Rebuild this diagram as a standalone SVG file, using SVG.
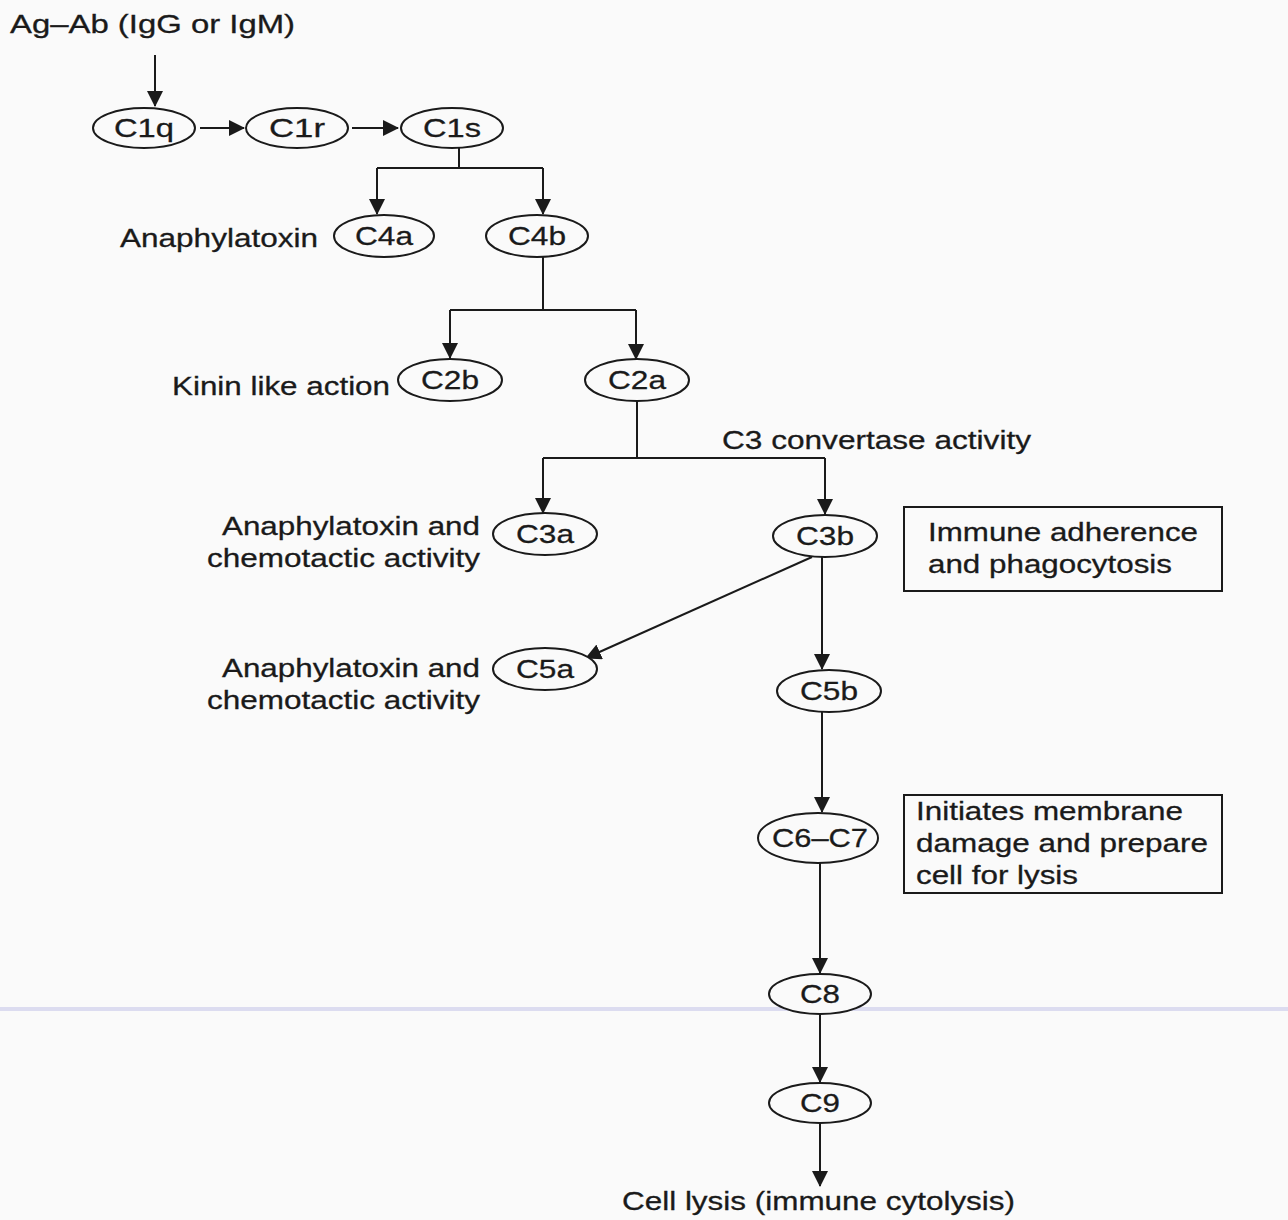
<svg xmlns="http://www.w3.org/2000/svg" width="1288" height="1220" viewBox="0 0 1288 1220">
<defs>
<marker id="ah" viewBox="0 0 16 16" refX="15" refY="8" markerWidth="16" markerHeight="16" markerUnits="userSpaceOnUse" orient="auto">
<path d="M0,0 L16,8 L0,16 Z" fill="#1a1a1a"/>
</marker>
<style>
text{font-family:"Liberation Sans",Arial,sans-serif;font-size:26px;fill:#1a1a1a;stroke:#1a1a1a;stroke-width:0.3}
.n ellipse{fill:#fafafa;stroke:#1a1a1a;stroke-width:2}
.n text{text-anchor:middle}
.c line,.c path{stroke:#1a1a1a;stroke-width:2;fill:none}
.box{fill:none;stroke:#1a1a1a;stroke-width:2}
.r{text-anchor:end}
</style>
</defs>
<rect x="0" y="0" width="1288" height="1220" fill="#fafafa"/>
<rect x="0" y="1007" width="1288" height="4" fill="#dcdcf0"/>

<g id="connectors" class="c">
<line x1="155" y1="55" x2="155" y2="106" marker-end="url(#ah)"/>
<line x1="200" y1="128" x2="244" y2="128" marker-end="url(#ah)"/>
<line x1="352" y1="128" x2="398" y2="128" marker-end="url(#ah)"/>
<path d="M459,148 V168"/>
<path d="M377,168 H543"/>
<line x1="377" y1="168" x2="377" y2="214" marker-end="url(#ah)"/>
<line x1="543" y1="168" x2="543" y2="214" marker-end="url(#ah)"/>
<path d="M543,256 V310 M450,310 H636"/>
<line x1="450" y1="310" x2="450" y2="358" marker-end="url(#ah)"/>
<line x1="636" y1="310" x2="636" y2="359" marker-end="url(#ah)"/>
<path d="M637,401 V458 M543,458 H825"/>
<line x1="543" y1="458" x2="543" y2="513" marker-end="url(#ah)"/>
<line x1="825" y1="458" x2="825" y2="514" marker-end="url(#ah)"/>
<line x1="812" y1="557" x2="586" y2="658" marker-end="url(#ah)"/>
<line x1="822" y1="557" x2="822" y2="669" marker-end="url(#ah)"/>
<line x1="822" y1="712" x2="822" y2="812" marker-end="url(#ah)"/>
<line x1="820" y1="863" x2="820" y2="973" marker-end="url(#ah)"/>
<line x1="820" y1="1015" x2="820" y2="1082" marker-end="url(#ah)"/>
<line x1="820" y1="1124" x2="820" y2="1186" marker-end="url(#ah)"/>
</g>

<g id="label-agab"><text x="10" y="33" textLength="285" lengthAdjust="spacingAndGlyphs">Ag–Ab (IgG or IgM)</text></g>

<g id="C1q" class="n"><ellipse cx="144" cy="128" rx="51" ry="20"/><text x="144" y="137" textLength="60" lengthAdjust="spacingAndGlyphs">C1q</text></g>
<g id="C1r" class="n"><ellipse cx="297" cy="128" rx="51" ry="20"/><text x="297" y="137" textLength="56" lengthAdjust="spacingAndGlyphs">C1r</text></g>
<g id="C1s" class="n"><ellipse cx="452" cy="128" rx="51" ry="20"/><text x="452" y="137" textLength="58" lengthAdjust="spacingAndGlyphs">C1s</text></g>

<g id="C4a" class="n"><ellipse cx="384" cy="236" rx="50" ry="21"/><text x="384" y="245" textLength="58" lengthAdjust="spacingAndGlyphs">C4a</text></g>
<g id="label-c4a"><text x="120" y="247" textLength="198" lengthAdjust="spacingAndGlyphs">Anaphylatoxin</text></g>
<g id="C4b" class="n"><ellipse cx="537" cy="236" rx="51" ry="21"/><text x="537" y="245" textLength="58" lengthAdjust="spacingAndGlyphs">C4b</text></g>

<g id="C2b" class="n"><ellipse cx="450" cy="380" rx="52" ry="21"/><text x="450" y="389" textLength="58" lengthAdjust="spacingAndGlyphs">C2b</text></g>
<g id="label-c2b"><text x="172" y="395" textLength="218" lengthAdjust="spacingAndGlyphs">Kinin like action</text></g>
<g id="C2a" class="n"><ellipse cx="637" cy="380" rx="52" ry="21"/><text x="637" y="389" textLength="58" lengthAdjust="spacingAndGlyphs">C2a</text></g>

<g id="label-c3conv"><text x="722" y="449" textLength="309" lengthAdjust="spacingAndGlyphs">C3 convertase activity</text></g>

<g id="C3a" class="n"><ellipse cx="545" cy="534" rx="52" ry="21"/><text x="545" y="543" textLength="58" lengthAdjust="spacingAndGlyphs">C3a</text></g>
<g id="label-c3a"><text class="r" x="480" y="535" textLength="258" lengthAdjust="spacingAndGlyphs">Anaphylatoxin and</text><text class="r" x="480" y="567" textLength="273" lengthAdjust="spacingAndGlyphs">chemotactic activity</text></g>
<g id="C3b" class="n"><ellipse cx="825" cy="536" rx="52" ry="21"/><text x="825" y="545" textLength="58" lengthAdjust="spacingAndGlyphs">C3b</text></g>
<g id="box-immune"><rect class="box" x="904" y="507" width="318" height="84"/><text x="928" y="541" textLength="270" lengthAdjust="spacingAndGlyphs">Immune adherence</text><text x="928" y="573" textLength="244" lengthAdjust="spacingAndGlyphs">and phagocytosis</text></g>

<g id="C5a" class="n"><ellipse cx="545" cy="669" rx="52" ry="21"/><text x="545" y="678" textLength="58" lengthAdjust="spacingAndGlyphs">C5a</text></g>
<g id="label-c5a"><text class="r" x="480" y="677" textLength="258" lengthAdjust="spacingAndGlyphs">Anaphylatoxin and</text><text class="r" x="480" y="709" textLength="273" lengthAdjust="spacingAndGlyphs">chemotactic activity</text></g>
<g id="C5b" class="n"><ellipse cx="829" cy="691" rx="52" ry="21"/><text x="829" y="700" textLength="58" lengthAdjust="spacingAndGlyphs">C5b</text></g>

<g id="C6C7" class="n"><ellipse cx="818" cy="838" rx="60" ry="25"/><text x="820" y="847" textLength="96" lengthAdjust="spacingAndGlyphs">C6–C7</text></g>
<g id="box-membrane"><rect class="box" x="904" y="795" width="318" height="98"/><text x="916" y="820" textLength="267" lengthAdjust="spacingAndGlyphs">Initiates membrane</text><text x="916" y="852" textLength="292" lengthAdjust="spacingAndGlyphs">damage and prepare</text><text x="916" y="884" textLength="162" lengthAdjust="spacingAndGlyphs">cell for lysis</text></g>

<g id="C8" class="n"><ellipse cx="820" cy="994" rx="51" ry="20"/><text x="820" y="1003" textLength="40" lengthAdjust="spacingAndGlyphs">C8</text></g>
<g id="C9" class="n"><ellipse cx="820" cy="1103" rx="51" ry="20"/><text x="820" y="1112" textLength="40" lengthAdjust="spacingAndGlyphs">C9</text></g>

<g id="label-lysis"><text x="622" y="1210" textLength="393" lengthAdjust="spacingAndGlyphs">Cell lysis (immune cytolysis)</text></g>
</svg>
